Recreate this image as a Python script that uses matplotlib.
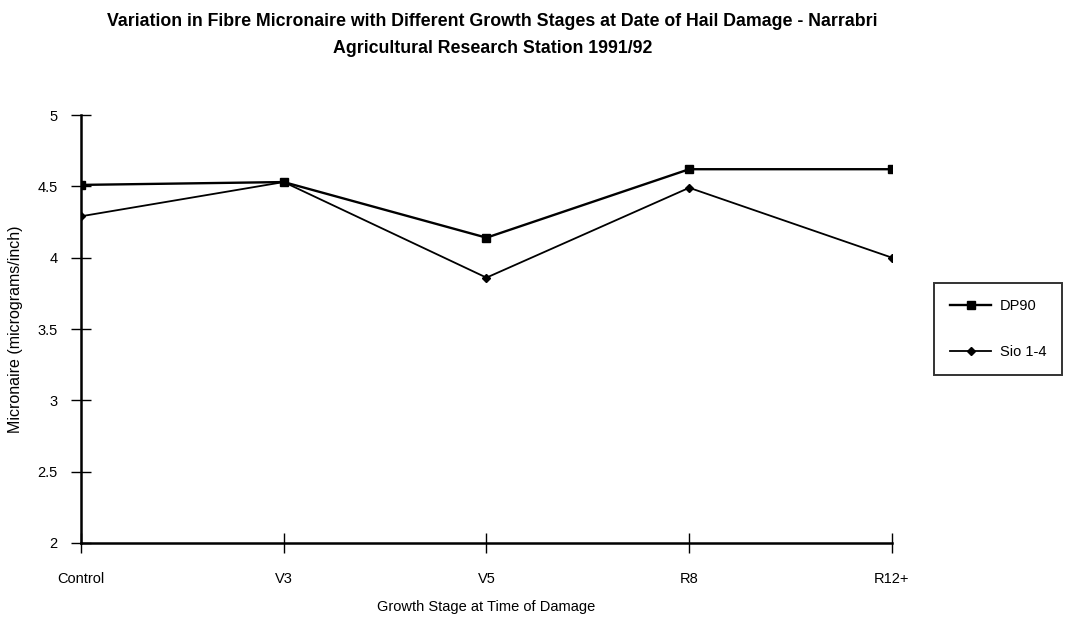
import matplotlib
matplotlib.use("Agg")
import matplotlib.pyplot as plt

stages = ["Control", "V3", "V5", "R8", "R12+"]
dp90 = [4.51, 4.53, 4.14, 4.62, 4.62]
sio = [4.29, 4.53, 3.86, 4.49, 4.00]
y_ticks = [2, 2.5, 3, 3.5, 4, 4.5, 5]
y_tick_labels = ["2", "2.5", "3", "3.5", "4", "4.5", "5"]

plt.rcParams["font.family"] = ["Liberation Sans", "DejaVu Sans"]

fig = plt.figure(figsize=(10.7, 6.25), dpi=100)
ax = fig.add_axes([0.0757, 0.1312, 0.7579, 0.6848])

x = list(range(len(stages)))
ax.plot(x, dp90, color="black", lw=1.7, marker="s", ms=5.5, label="DP90")
ax.plot(x, sio, color="black", lw=1.3, marker="D", ms=4, label="Sio 1-4")

ax.set_xlim(0, len(stages) - 1)
ax.set_ylim(2, 5)
ax.set_xticks(x)
ax.set_xticklabels(stages)
ax.set_yticks(y_ticks)
ax.set_yticklabels(y_tick_labels)

for side in ("top", "right"):
    ax.spines[side].set_visible(False)
ax.spines["left"].set_linewidth(1.8)
ax.spines["bottom"].set_linewidth(1.8)
ax.tick_params(axis="both", direction="inout", length=14, width=1.0, labelsize=10.5)
ax.tick_params(axis="x", pad=14)
ax.tick_params(axis="y", pad=10)

ax.set_xlabel("Growth Stage at Time of Damage", fontsize=10.5, labelpad=10)
ax.set_ylabel("Micronaire (micrograms/inch)", fontsize=11.5, labelpad=10)

fig.text(0.46, 0.965, "Variation in Fibre Micronaire with Different Growth Stages at Date of Hail Damage - Narrabri",
         ha="center", va="center", fontsize=12.8, fontweight="bold")
fig.text(0.46, 0.922, "Agricultural Research Station 1991/92",
         ha="center", va="center", fontsize=12.8, fontweight="bold")

leg = ax.legend(loc="center left", bbox_to_anchor=(1.052, 0.5), frameon=True, fancybox=False,
                edgecolor="black", fontsize=10.5, handlelength=2.8, labelspacing=2.2,
                borderpad=1.1, handletextpad=0.6, borderaxespad=0.0)
leg.get_frame().set_linewidth(1.4)

fig.savefig("out.png", dpi=100, facecolor="white")
